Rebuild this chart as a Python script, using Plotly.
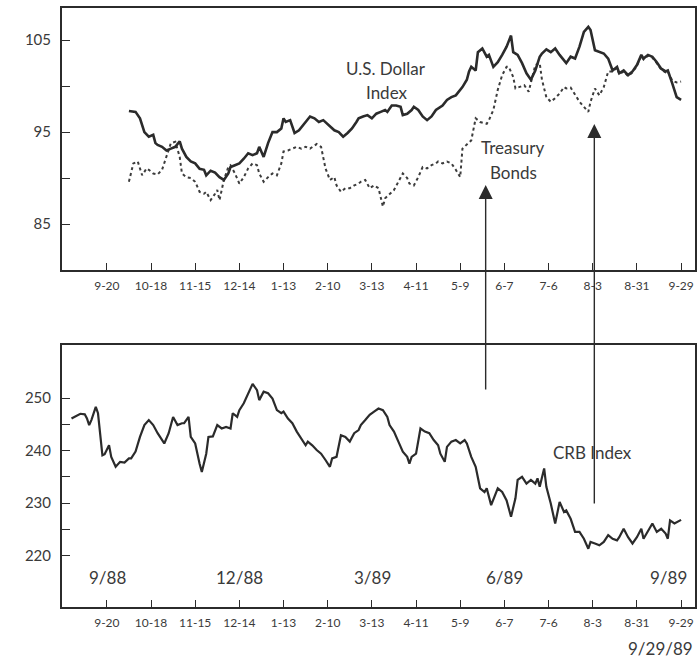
import plotly.graph_objects as go

# ---------------- data (x = trading-day index, 0 = 9-20-88, 20 days per tick) -------------
tick_labels = ["9-20", "10-18", "11-15", "12-14", "1-13", "2-10", "3-13",
               "4-11", "5-9", "6-7", "7-6", "8-3", "8-31", "9-29"]

dollar_days = [10, 13, 15, 17, 19, 21, 22, 23, 25, 27, 29, 31, 33, 34, 36, 38, 40, 42, 44, 45,
               47, 49, 51, 53, 55, 56, 58, 60, 62, 64, 66, 68, 69, 71, 73, 75, 77, 79, 80, 81,
               83, 85, 87, 89, 91, 92, 94, 96, 98, 100, 102, 103, 105, 107, 109, 111, 113, 114,
               116, 118, 120, 122, 124, 126, 127, 129, 131, 133, 134, 136, 138, 139, 141, 143,
               145, 147, 149, 150, 152, 154, 156, 158, 160, 161, 163, 164, 165, 167, 168, 170,
               172, 173, 175, 177, 179, 181, 183, 184, 186, 188, 190, 192, 194, 196, 197, 199,
               201, 203, 205, 207, 208, 210, 212, 214, 216, 218, 219, 221, 223, 225, 227, 229,
               231, 232, 234, 236, 238, 240, 242, 243, 245, 247, 249, 251, 253, 254, 256, 258, 260]
dollar_vals = [97.3, 97.2, 96.5, 95.0, 94.5, 94.7, 93.8, 93.6, 93.4, 93.0, 93.2, 93.4, 94.0, 93.2,
               92.3, 91.8, 91.6, 91.0, 90.9, 90.3, 90.8, 90.6, 90.1, 89.8, 90.5, 91.2, 91.4, 91.6,
               92.1, 92.7, 92.5, 92.7, 93.4, 92.3, 93.8, 95.0, 95.0, 95.4, 96.5, 96.1, 96.3, 94.9,
               95.2, 95.8, 96.3, 96.7, 96.5, 96.1, 96.3, 95.9, 95.4, 95.2, 95.0, 94.5, 94.9, 95.4,
               96.1, 96.5, 96.7, 96.85, 96.5, 97.0, 97.2, 97.4, 97.2, 97.9, 97.9, 97.75, 96.85,
               97.0, 97.4, 97.75, 97.4, 96.7, 96.3, 96.7, 97.4, 97.6, 97.9, 98.5, 98.8, 99.0,
               99.6, 99.9, 100.7, 101.6, 102.1, 101.7, 103.7, 104.1, 103.2, 103.4, 102.1, 102.6,
               103.4, 104.3, 105.5, 103.7, 103.4, 102.5, 101.4, 100.7, 101.7, 103.2, 103.55,
               104.0, 103.7, 104.1, 103.4, 102.8, 102.5, 103.2, 103.0, 104.3, 105.9, 106.45,
               106.1, 103.9, 103.7, 103.55, 103.0, 101.7, 102.1, 101.4, 101.7, 101.2, 101.6,
               102.3, 103.4, 103.0, 103.4, 103.2, 102.6, 101.9, 101.6, 101.7, 100.3, 98.8, 98.5]

bond_days = [10, 12, 14, 16, 18, 19, 21, 23, 25, 27, 28, 29, 31, 33, 34, 36, 38, 40, 42, 44, 45,
             47, 49, 50, 51, 53, 55, 56, 58, 60, 62, 64, 66, 68, 69, 71, 73, 75, 77, 79, 80, 82,
             84, 86, 88, 90, 92, 93, 95, 97, 99, 101, 103, 104, 106, 108, 110, 112, 114, 115,
             117, 119, 121, 123, 125, 126, 128, 130, 132, 134, 136, 137, 139, 141, 143, 145,
             147, 149, 150, 152, 154, 156, 158, 160, 161, 163, 165, 167, 169, 172, 173, 175,
             177, 179, 181, 182, 184, 185, 187, 189, 191, 193, 194, 196, 197, 199, 201, 203,
             205, 207, 208, 210, 212, 214, 216, 218, 219, 221, 223, 225, 227, 229, 231, 232,
             234, 236, 238, 240, 242, 243, 245, 247, 249, 251, 253, 254, 256, 258, 260]
bond_vals = [89.6, 91.6, 91.8, 90.3, 91.05, 90.9, 90.5, 90.4, 90.9, 92.3, 93.2, 93.8, 93.95,
             92.3, 90.5, 90.1, 90.0, 89.6, 88.5, 88.3, 88.5, 87.6, 88.3, 88.7, 87.6, 89.8, 91.2,
             91.4, 90.5, 89.4, 90.1, 91.05, 91.6, 91.4, 90.5, 89.6, 90.1, 90.5, 90.3, 91.6, 92.9,
             93.0, 93.2, 93.4, 93.2, 93.4, 93.2, 93.4, 93.7, 93.4, 91.05, 89.8, 90.1, 89.2, 88.5,
             88.9, 88.9, 89.2, 89.4, 89.6, 89.8, 88.9, 89.2, 88.9, 86.9, 87.8, 88.2, 88.7, 89.6,
             90.5, 90.0, 89.4, 89.2, 90.1, 91.2, 91.05, 91.4, 91.6, 91.8, 91.6, 91.8, 91.6, 90.9,
             90.1, 93.2, 93.6, 94.1, 96.5, 96.1, 95.9, 96.3, 97.4, 99.6, 101.2, 102.1, 102.1,
             101.0, 99.75, 99.9, 100.1, 99.4, 101.2, 102.3, 102.5, 100.7, 98.8, 98.3, 98.7, 99.2,
             99.9, 99.75, 99.85, 99.0, 98.3, 97.75, 97.2, 98.3, 99.75, 99.0, 99.9, 101.6, 101.6,
             102.0, 101.3, 101.6, 101.1, 101.5, 102.2, 103.3, 102.9, 103.3, 103.1, 102.5, 101.8,
             101.5, 101.6, 100.6, 100.4, 100.5]

crb_days = [-16, -14, -12, -10, -9, -8, -7, -5, -4, -2, -1, 1, 2, 4, 6, 8, 10, 11, 13, 15, 17,
            19, 21, 23, 24, 26, 28, 30, 32, 34, 35, 37, 38, 40, 42, 43, 45, 46, 48, 50, 52, 54,
            56, 57, 59, 60, 62, 64, 66, 68, 69, 71, 73, 75, 77, 79, 80, 82, 84, 86, 88, 90, 91,
            93, 95, 97, 99, 101, 102, 104, 106, 108, 110, 112, 114, 115, 117, 119, 121, 123,
            125, 127, 128, 130, 132, 134, 136, 137, 138, 140, 142, 144, 146, 148, 150, 151, 153,
            154, 156, 158, 160, 162, 163, 165, 167, 169, 171, 172, 174, 176, 177, 179, 181, 183,
            185, 186, 188, 190, 192, 194, 195, 196, 198, 199, 201, 203, 205, 207, 208, 210, 212,
            214, 216, 218, 219, 221, 223, 225, 227, 229, 231, 232, 234, 236, 238, 240, 242, 243,
            245, 247, 249, 251, 253, 254, 255, 257, 260]
crb_vals = [246.1, 246.6, 247.0, 246.9, 246.1, 244.85, 245.8, 248.3, 247.1, 239.1, 239.3, 241.0,
            238.8, 236.9, 237.85, 237.7, 238.5, 238.5, 239.8, 242.6, 244.85, 245.8, 244.85, 243.3,
            242.6, 241.35, 243.3, 246.4, 244.85, 245.2, 245.2, 246.4, 242.6, 241.35, 237.5,
            235.9, 239.4, 242.6, 242.7, 244.85, 244.2, 244.5, 244.2, 247.1, 246.4, 247.7, 249.0,
            250.9, 252.7, 251.5, 249.6, 251.2, 250.9, 249.9, 247.7, 247.1, 247.4, 246.1, 245.2,
            243.6, 242.3, 241.0, 241.7, 241.0, 240.1, 239.4, 238.2, 236.9, 238.5, 238.8, 242.9,
            242.6, 241.7, 243.3, 243.9, 244.85, 245.8, 246.8, 247.4, 248.0, 247.7, 246.4, 244.85,
            243.6, 241.7, 239.8, 238.8, 237.5, 238.8, 239.4, 244.2, 243.6, 243.3, 242.0, 241.0,
            239.4, 237.85, 240.7, 241.7, 242.0, 241.35, 242.0, 241.35, 238.8, 236.9, 232.8,
            232.1, 232.8, 229.6, 231.5, 232.8, 232.1, 230.5, 227.4, 230.9, 234.4, 235.0, 233.7,
            234.4, 233.7, 234.7, 233.1, 236.6, 233.1, 229.9, 226.1, 230.2, 228.3, 228.6, 227.0,
            224.5, 224.5, 223.2, 221.3, 222.6, 222.3, 221.95, 222.6, 223.9, 223.2, 222.9, 223.5,
            225.1, 223.5, 222.3, 223.5, 225.1, 223.2, 224.8, 226.1, 224.5, 225.1, 224.2, 223.2,
            226.7, 226.1, 226.8]

top_ticks = [85, 90, 95, 100, 105]
top_tick_text = ["85", "", "95", "", "105"]
bot_ticks = [220, 225, 230, 235, 240, 245, 250]
bot_tick_text = ["220", "", "230", "", "240", "", "250"]

# ---------------- figure -------------
INK = "#2b2b2b"
TXT = "#3a3a3a"
FONT = "Lato"
W, H = 700, 658
ML, MR, MT, MB = 62, 3, 8, 51
PW, PH = W - ML - MR, H - MT - MB


def px(xp):
    return (xp - ML) / PW


def py(yp):
    return (H - MB - yp) / PH


fig = go.Figure()
fig.add_trace(go.Scatter(x=bond_days, y=bond_vals, mode="lines",
                         line=dict(color="#3c3c3c", width=2.0, dash="dot"),
                         xaxis="x", yaxis="y", hoverinfo="skip"))
fig.add_trace(go.Scatter(x=dollar_days, y=dollar_vals, mode="lines",
                         line=dict(color=INK, width=2.6),
                         xaxis="x", yaxis="y", hoverinfo="skip"))
fig.add_trace(go.Scatter(x=crb_days, y=crb_vals, mode="lines",
                         line=dict(color=INK, width=2.2),
                         xaxis="x2", yaxis="y2", hoverinfo="skip"))

tickvals_x = [20 * i for i in range(len(tick_labels))]
xcommon = dict(range=[-20.3, 266.3], tickvals=tickvals_x, ticktext=tick_labels,
               ticks="inside", ticklen=7, tickwidth=1.3, tickcolor=INK,
               showline=True, linewidth=2, linecolor=INK, mirror=True,
               showgrid=False, zeroline=False, ticklabelstandoff=4,
               tickfont=dict(family=FONT, size=12, color=TXT))
ycommon = dict(ticks="inside", ticklen=8, tickwidth=1.3, tickcolor=INK,
               showline=True, linewidth=2, linecolor=INK, mirror=True,
               showgrid=False, zeroline=False, ticklabelstandoff=6,
               tickfont=dict(family=FONT, size=15, color=TXT))

fig.update_layout(
    width=W, height=H,
    margin=dict(l=ML, r=MR, t=MT, b=MB),
    paper_bgcolor="white", plot_bgcolor="white",
    showlegend=False,
    xaxis=dict(domain=[0, 1], anchor="y", **xcommon),
    yaxis=dict(domain=[py(270), 1], anchor="x", range=[80, 108.5],
               tickvals=top_ticks, ticktext=top_tick_text, **ycommon),
    xaxis2=dict(domain=[0, 1], anchor="y2", **xcommon),
    yaxis2=dict(domain=[0, py(345)], anchor="x2", range=[210.2, 260.1],
                tickvals=bot_ticks, ticktext=bot_tick_text, **ycommon),
)

labels = [
    ("U.S. Dollar", 387, 68, "center"),
    ("Index", 388, 92, "center"),
    ("Treasury", 514, 148, "center"),
    ("Bonds", 515, 172, "center"),
    ("CRB Index", 594, 453, "center"),
    ("9/88", 108, 577, "center"),
    ("12/88", 240, 577, "center"),
    ("3/89", 373, 577, "center"),
    ("6/89", 506, 577, "center"),
    ("9/89", 691, 577, "right"),
    ("9/29/89", 697, 648, "right"),
]
for text, xp, yp, anchor in labels:
    fig.add_annotation(text=text, xref="paper", yref="paper", x=px(xp), y=py(yp),
                       xanchor=anchor, yanchor="middle", showarrow=False,
                       font=dict(family=FONT, size=17, color=TXT))

# arrows (tip position, tail offset in pixels)
for xp, tip, tail in [(487, 185, 391), (596, 124, 505)]:
    fig.add_annotation(text="", xref="paper", yref="paper", x=px(xp), y=py(tip),
                       ax=0, ay=tail - tip, showarrow=True, arrowhead=2,
                       arrowsize=2.0, arrowwidth=1.4, arrowcolor=INK, standoff=0)

fig.write_html("out.html",
               config={"displayModeBar": False},
               post_script="document.body.style.margin='0';"
                           "document.body.style.overflow='hidden';")
